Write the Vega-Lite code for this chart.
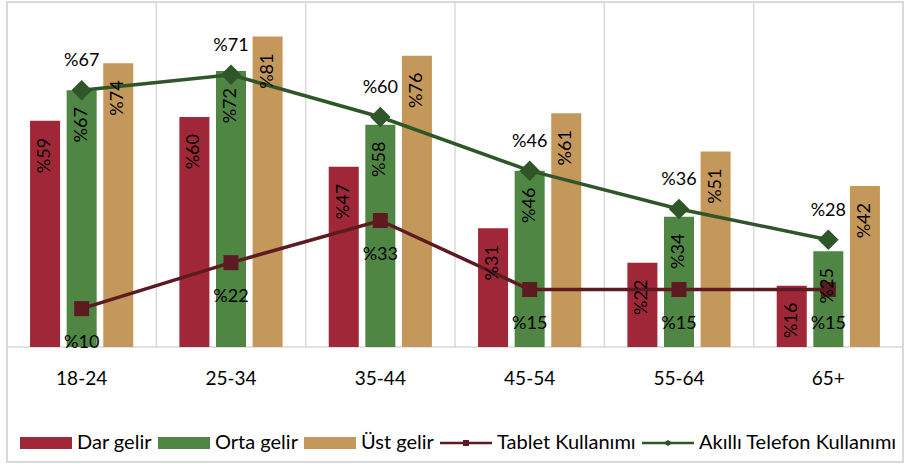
{
  "$schema": "https://vega.github.io/schema/vega-lite/v6.json",
  "width": 896,
  "height": 460,
  "autosize": {"type": "none"},
  "padding": {"left": 7, "top": 2, "right": 2, "bottom": 2},
  "background": "white",
  "config": {
    "view": {"stroke": "#D9D9D9", "strokeWidth": 2},
    "font": "Lato",
    "text": {"font": "Lato", "color": "#000000"}
  },
  "datasets": {
    "bars": [
      {"age": "18-24", "group": "Dar gelir", "value": 59},
      {"age": "18-24", "group": "Orta gelir", "value": 67},
      {"age": "18-24", "group": "Üst gelir", "value": 74},
      {"age": "25-34", "group": "Dar gelir", "value": 60},
      {"age": "25-34", "group": "Orta gelir", "value": 72},
      {"age": "25-34", "group": "Üst gelir", "value": 81},
      {"age": "35-44", "group": "Dar gelir", "value": 47},
      {"age": "35-44", "group": "Orta gelir", "value": 58},
      {"age": "35-44", "group": "Üst gelir", "value": 76},
      {"age": "45-54", "group": "Dar gelir", "value": 31},
      {"age": "45-54", "group": "Orta gelir", "value": 46},
      {"age": "45-54", "group": "Üst gelir", "value": 61},
      {"age": "55-64", "group": "Dar gelir", "value": 22},
      {"age": "55-64", "group": "Orta gelir", "value": 34},
      {"age": "55-64", "group": "Üst gelir", "value": 51},
      {"age": "65+", "group": "Dar gelir", "value": 16},
      {"age": "65+", "group": "Orta gelir", "value": 25},
      {"age": "65+", "group": "Üst gelir", "value": 42}
    ],
    "lines": [
      {"age": "18-24", "series": "Tablet Kullanımı", "value": 10},
      {"age": "25-34", "series": "Tablet Kullanımı", "value": 22},
      {"age": "35-44", "series": "Tablet Kullanımı", "value": 33},
      {"age": "45-54", "series": "Tablet Kullanımı", "value": 15},
      {"age": "55-64", "series": "Tablet Kullanımı", "value": 15},
      {"age": "65+", "series": "Tablet Kullanımı", "value": 15},
      {"age": "18-24", "series": "Akıllı Telefon Kullanımı", "value": 67},
      {"age": "25-34", "series": "Akıllı Telefon Kullanımı", "value": 71},
      {"age": "35-44", "series": "Akıllı Telefon Kullanımı", "value": 60},
      {"age": "45-54", "series": "Akıllı Telefon Kullanımı", "value": 46},
      {"age": "55-64", "series": "Akıllı Telefon Kullanımı", "value": 36},
      {"age": "65+", "series": "Akıllı Telefon Kullanımı", "value": 28}
    ]
  },
  "encoding": {
    "x": {
      "field": "age",
      "type": "ordinal",
      "sort": ["18-24", "25-34", "35-44", "45-54", "55-64", "65+"],
      "scale": {"paddingInner": 0, "paddingOuter": 0},
      "axis": {
        "title": null,
        "domain": false,
        "ticks": false,
        "grid": false,
        "labelAngle": 0,
        "labelFont": "Lato",
        "labelFontSize": 19,
        "labelColor": "#000000",
        "labelPadding": 0,
        "offset": -93
      }
    }
  },
  "layer": [
    {
      "data": {"name": "bars"},
      "transform": [{"filter": "datum.group === 'Dar gelir'"}],
      "mark": {"type": "rule", "color": "#D9D9D9", "strokeWidth": 1.5},
      "encoding": {
        "x": {"field": "age", "type": "ordinal", "bandPosition": 0},
        "y": {"datum": 0, "type": "quantitative", "scale": {"domain": [-30, 90], "nice": false}, "axis": null},
        "y2": {"datum": 90}
      }
    },
    {
      "data": {"name": "bars"},
      "transform": [{"filter": "datum.group === 'Dar gelir' && datum.age === '18-24'"}],
      "mark": {"type": "rule", "color": "#D9D9D9", "strokeWidth": 1.5},
      "encoding": {
        "x": {"value": 0},
        "x2": {"value": 896},
        "y": {"datum": 0, "type": "quantitative"}
      }
    },
    {
      "data": {"name": "bars"},
      "mark": {"type": "bar"},
      "encoding": {
        "xOffset": {
          "field": "group",
          "type": "nominal",
          "sort": ["Dar gelir", "Orta gelir", "Üst gelir"],
          "scale": {"paddingInner": 0.18, "paddingOuter": 0.63}
        },
        "y": {"field": "value", "type": "quantitative"},
        "color": {
          "field": "group",
          "type": "nominal",
          "scale": {
            "domain": ["Dar gelir", "Orta gelir", "Üst gelir", "Tablet Kullanımı", "Akıllı Telefon Kullanımı"],
            "range": ["#A02738", "#4F8644", "#C4985A", "#5E1A21", "#2F5628"]
          },
          "legend": {
            "title": null,
            "orient": "none",
            "direction": "horizontal",
            "columns": 5,
            "legendX": 13,
            "legendY": 415,
            "padding": 0,
            "symbolSize": 2704,
            "labelFont": "Lato",
            "labelFontSize": 20,
            "labelColor": "#000000",
            "labelOffset": 5,
            "columnPadding": 6,
            "labelLimit": 300,
            "encode": {
              "symbols": {
                "update": {
                  "shape": {"signal": "datum.value === 'Tablet Kullanımı' ? 'M-1,-0.045H-0.115V-0.115H0.115V-0.045H1V0.045H0.115V0.115H-0.115V0.045H-1Z' : (datum.value === 'Akıllı Telefon Kullanımı' ? 'M-1,-0.045H-0.11L0,-0.12L0.11,-0.045H1V0.045H0.11L0,0.12L-0.11,0.045H-1Z' : 'M-1,-0.23H1V0.23H-1Z')"},
                  "fill": {"signal": "scale('color', datum.value)"},
                  "stroke": {"value": "transparent"},
                  "strokeWidth": {"value": 0},
                  "opacity": {"value": 1}
                }
              }
            }
          }
        }
      }
    },
    {
      "data": {"name": "lines"},
      "mark": {"type": "line", "strokeWidth": 3.5},
      "encoding": {
        "y": {"field": "value", "type": "quantitative"},
        "color": {"field": "series", "type": "nominal"},
        "detail": {"field": "series"}
      }
    },
    {
      "data": {"name": "lines"},
      "mark": {"type": "point", "filled": true, "opacity": 1},
      "encoding": {
        "y": {"field": "value", "type": "quantitative"},
        "color": {"field": "series", "type": "nominal"},
        "shape": {
          "field": "series",
          "type": "nominal",
          "scale": {"domain": ["Tablet Kullanımı", "Akıllı Telefon Kullanımı"], "range": ["square", "diamond"]},
          "legend": null
        },
        "size": {
          "field": "series",
          "type": "nominal",
          "scale": {"domain": ["Tablet Kullanımı", "Akıllı Telefon Kullanımı"], "range": [225, 420]},
          "legend": null
        }
      }
    },
    {
      "data": {"name": "bars"},
      "transform": [{"calculate": "'%' + datum.value", "as": "label"}],
      "mark": {"type": "text", "angle": 270, "align": "right", "baseline": "middle", "dx": -17, "fontSize": 18},
      "encoding": {
        "xOffset": {
          "field": "group",
          "type": "nominal",
          "sort": ["Dar gelir", "Orta gelir", "Üst gelir"]
        },
        "y": {"field": "value", "type": "quantitative"},
        "text": {"field": "label"}
      }
    },
    {
      "data": {"name": "lines"},
      "transform": [
        {"filter": "datum.series === 'Akıllı Telefon Kullanımı'"},
        {"calculate": "'%' + datum.value", "as": "label"}
      ],
      "mark": {"type": "text", "align": "center", "baseline": "middle", "dy": -29, "fontSize": 18},
      "encoding": {
        "y": {"field": "value", "type": "quantitative"},
        "text": {"field": "label"}
      }
    },
    {
      "data": {"name": "lines"},
      "transform": [
        {"filter": "datum.series === 'Tablet Kullanımı'"},
        {"calculate": "'%' + datum.value", "as": "label"}
      ],
      "mark": {"type": "text", "align": "center", "baseline": "middle", "dy": 34, "fontSize": 18},
      "encoding": {
        "y": {"field": "value", "type": "quantitative"},
        "text": {"field": "label"}
      }
    }
  ]
}
